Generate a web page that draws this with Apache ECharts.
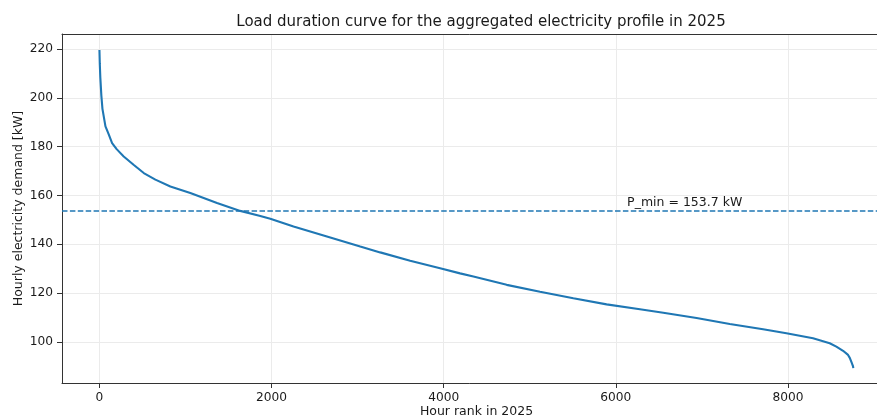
<!DOCTYPE html>
<html>
<head>
<meta charset="utf-8">
<script src="https://cdn.jsdelivr.net/npm/echarts@6/dist/echarts.min.js"></script>
<style>
  html, body { margin: 0; padding: 0; background: #fff; }
  #chart { width: 877px; height: 419px; }
</style>
</head>
<body>
<div id="chart"></div>
<script>
// hour rank (sorted descending) and demand
const ranks = [0, 4, 10, 22, 35, 70, 108, 147, 200, 282, 400, 515, 650, 824, 1056, 1366, 1636, 1869, 1985,
  2255, 2643, 3030, 3262, 3610, 3958, 4190, 4345, 4732, 5119, 5506, 5893, 6280, 6551, 6938,
  7324, 7711, 7982, 8291, 8485, 8562, 8640, 8698, 8718, 8740, 8756, 8759];
const demand = [219.6, 214, 208.5, 201, 195.5, 188.3, 185, 181.5, 179, 176, 172.5, 169.2, 166.5, 163.7, 161, 156.9, 153.7, 151.6, 150.5,
  147.3, 143.2, 139.1, 136.7, 133.3, 130.2, 128.1, 126.8, 123.4, 120.6, 117.9, 115.4, 113.4, 112.0, 109.8,
  107.4, 105.2, 103.6, 101.5, 99.5, 98.1, 96.4, 94.7, 93.5, 91.5, 90.0, 89.3];
const pMin = 153.7;
const xTicks = [0, 2000, 4000, 6000, 8000];
const yTicks = [100, 120, 140, 160, 180, 200, 220];

const font = 'DejaVu Sans';
const ink = '#1a1a1a';
const frame = '#333';

let chart = echarts.init(document.getElementById('chart'));
chart.setOption({
  animation: false,
  title: {
    text: 'Load duration curve for the aggregated electricity profile in 2025',
    left: 476, top: 10, textAlign: 'center',
    textStyle: { fontFamily: font, fontSize: 15, fontWeight: 'normal', color: ink }
  },
  grid: { left: 62, right: -14, top: 34, bottom: 36, containLabel: false, outerBoundsMode: 'none' },
  xAxis: [{
    type: 'value', min: -435, max: 9197,
    name: 'Hour rank in 2025', nameLocation: 'middle', nameGap: 22, nameMoveOverlap: false,
    nameTextStyle: { fontFamily: font, fontSize: 12.5, color: ink },
    axisLine: { show: true, onZero: false, lineStyle: { color: frame, width: 1 } },
    axisTick: { show: true, length: 5, customValues: xTicks, lineStyle: { color: frame } },
    axisLabel: { customValues: xTicks, formatter: v => String(v), fontFamily: font, fontSize: 12.2, color: ink, margin: 9 },
    splitLine: { show: true, customValues: xTicks, lineStyle: { color: '#ebebeb', width: 1 } }
  }, {
    // top frame of the axes box
    type: 'value', position: 'top', min: -435, max: 9197,
    axisLine: { show: true, onZero: false, lineStyle: { color: frame, width: 1 } },
    axisTick: { show: false }, axisLabel: { show: false }, splitLine: { show: false }
  }],
  yAxis: {
    type: 'value', min: 83.2, max: 226.15,
    name: 'Hourly electricity demand [kW]', nameLocation: 'middle', nameGap: 37, nameMoveOverlap: false,
    nameTextStyle: { fontFamily: font, fontSize: 12.5, color: ink },
    axisLine: { show: true, onZero: false, lineStyle: { color: frame, width: 1 } },
    axisTick: { show: true, length: 5, customValues: yTicks, lineStyle: { color: frame } },
    axisLabel: { customValues: yTicks, fontFamily: font, fontSize: 12.2, color: ink, margin: 9 },
    splitLine: { show: true, customValues: yTicks, lineStyle: { color: '#ebebeb', width: 1 } }
  },
  series: [{
    type: 'line',
    data: ranks.map((r, i) => [r, demand[i]]),
    showSymbol: false,
    lineStyle: { color: '#1f77b4', width: 2.1 },
    markLine: {
      silent: true, symbol: 'none',
      label: { show: false },
      lineStyle: { color: '#1f77b4', width: 1.5, type: [5.5, 2.4] },
      data: [{ yAxis: pMin }]
    },
    markPoint: {
      silent: true,
      symbol: 'circle', symbolSize: 0,
      data: [{ coord: [6131, pMin + 2] }],
      label: {
        show: true, position: 'inside', align: 'left', verticalAlign: 'bottom', offset: [0, 3],
        formatter: 'P_min = ' + pMin + ' kW',
        fontFamily: font, fontSize: 12.5, color: ink
      }
    }
  }]
});
</script>
</body>
</html>
